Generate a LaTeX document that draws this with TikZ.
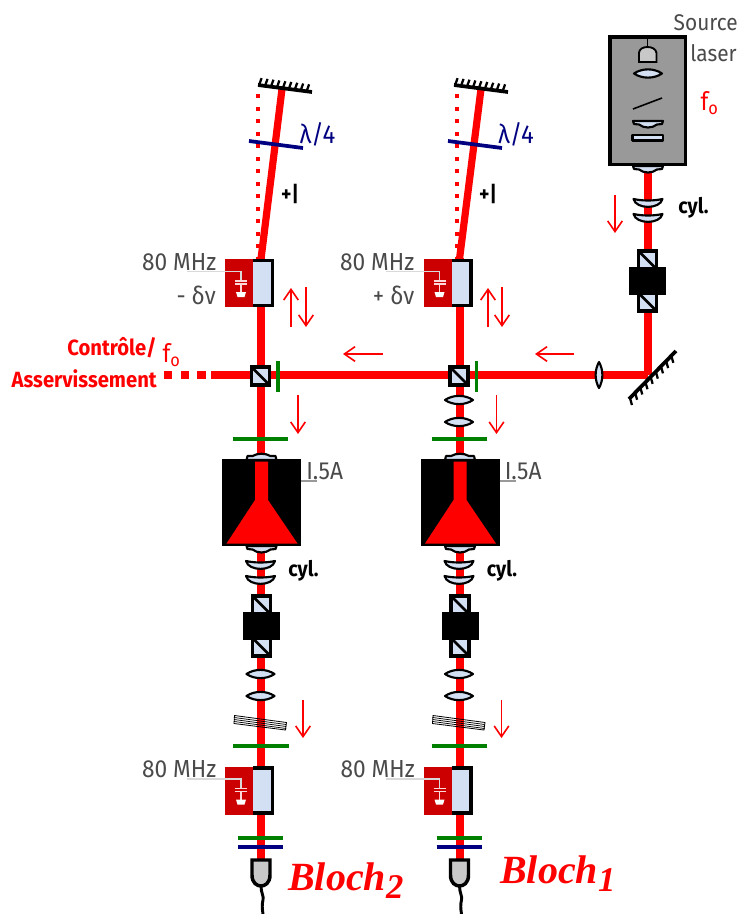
\documentclass[tikz,border=0pt]{standalone}
\usepackage{fontspec}
\setmainfont[FakeStretch=0.92]{Fira Sans}
\newfontfamily\blochfont[BoldItalicFont={Liberation Serif Bold Italic}]{Liberation Serif}
\usetikzlibrary{calc,arrows.meta}
\definecolor{aomred}{HTML}{CC0000}
\definecolor{optic}{HTML}{D3E0F3}
\definecolor{txtgray}{HTML}{4A4A4A}
\definecolor{plategreen}{HTML}{008000}
\definecolor{platenavy}{HTML}{000080}
\definecolor{hgray}{HTML}{999999}
\definecolor{dgray}{HTML}{C8C8C8}
\tikzset{
  beam/.style={draw=red,line width=6pt},
  beamthin/.style={draw=red,line width=5.4pt},
  greenplate/.style={draw=plategreen,line width=2.8pt},
  navyplate/.style={draw=platenavy,line width=2.8pt},
  opt/.style={draw=black,fill=optic,line width=1.6pt,line join=round},
  dirarrow/.style={draw=red,line width=1.2pt,-{Straight Barb[length=8pt,width=11pt,line width=1.2pt]}},
  graylabel/.style={text=txtgray,font=\fontsize{18.5}{20}\selectfont,inner sep=0pt},
  sourcelabel/.style={text=txtgray,font=\fontsize{17}{19}\selectfont,inner sep=0pt},
  blacklabel/.style={text=black,font=\bfseries\fontsize{16}{18}\selectfont,inner sep=0pt},
  redlabel/.style={text=red,font=\bfseries\fontsize{16.5}{18}\selectfont,inner sep=0pt},
  bluelabel/.style={text=platenavy,font=\fontsize{19.5}{21}\selectfont,inner sep=0pt},
  redsub/.style={text=red,font=\fontsize{19}{20}\selectfont,inner sep=0pt},
  blochlabel/.style={text=red,font=\blochfont\bfseries\itshape\fontsize{30}{33}\selectfont,inner sep=0pt},
  biconvex/.pic={\draw[opt] (-14,0) .. controls (-6,-5.5) and (6,-5.5) .. (14,0) .. controls (6,5.5) and (-6,5.5) .. (-14,0) -- cycle;},
  topcap/.pic={\draw[opt] (-15,7) -- (-14,3) -- (-9,3) .. controls (-4,0) and (4,0) .. (9,3) -- (14,3) -- (15,7) -- cycle;},
  bottomcap/.pic={\draw[opt] (-15,0) -- (15,0) -- (14,3) -- (9,3.5) .. controls (4,7.5) and (-4,7.5) .. (-9,3.5) -- (-14,3) -- cycle;},
  cyllens/.pic={\draw[opt] (-14.5,0) .. controls (-5,2) and (5,2) .. (14.5,0) .. controls (12,10.5) and (-12,10.5) .. (-14.5,0) -- cycle;},
  cube/.pic={\draw[fill=optic,draw=black,line width=2.6pt] (-9,-9) rectangle (9,9); \draw[black,line width=2pt] (-9,-9) -- (9,9);},
  isolator/.pic={
    \draw[fill=optic,draw=black,line width=2.6pt] (-9,-30) rectangle (9,-12);
    \draw[black,line width=2pt] (-9,-30) -- (9,-12);
    \draw[fill=optic,draw=black,line width=2.6pt] (-9,12) rectangle (9,30);
    \draw[black,line width=2pt] (-9,12) -- (9,30);
    \fill[black] (-18.5,-14) rectangle (18.5,14);},
  amplifier/.pic={
    \fill[black] (-39.5,-43.5) rectangle (39.5,43.5);
    \fill[red] (-6.5,-41) -- (6.5,-41) -- (6.5,-2.5) -- (36,41) -- (-35,41) -- (-6.5,-2.5) -- cycle;},
  aom/.pic={
    \fill[aomred] (-36,-24) rectangle (-8,24);
    \draw[fill=optic,draw=black,line width=2.6pt] (-8,-22.5) -- (11.5,-22.5) -- (11.5,22.5) -- (-8,22.5);
    \draw[white!70!gray,line width=.8pt] (-74,-11.5) -- (-20,-11.5) -- (-20,-2);
    \draw[white!85!red,line width=.9pt] (-26,-2) -- (-14,-2) (-26,1) -- (-14,1) (-20,1) -- (-20,9);
    \fill[white] (-25,9) -- (-15,9) -- (-16.5,14) -- (-23.5,14) -- cycle;},
  detector/.pic={
    \draw[fill=dgray,draw=black,line width=2.6pt] (-9,0) -- (9,0) -- (9,15) .. controls (9,23) and (4,26) .. (0,26) .. controls (-4,26) and (-9,23) .. (-9,15) -- cycle;
    \draw[black,line width=2.2pt] (0,26) .. controls (0,33) and (3,36) .. (2,40) .. controls (1,44) and (1,48) .. (2,54);},
  etalon/.pic={
    \draw[black,line width=.6pt] (-26,-7) -- (26,0) -- (25,7.5) -- (-26.5,1) -- cycle;
    \foreach \d in {2,4,6} {\draw[black,line width=.55pt] (-26.3,-7+\d) -- (25.7,\d);}},
}
\newcommand{\mirrorticks}[4]{%
  \draw[black,line width=2.8pt] (#1) -- (#2);
  \foreach \t in {0.02,0.13,...,1.0} {\draw[black,line width=1.7pt] ($(#1)!\t!(#2)$) -- ++(#3,#4);}}
\newcommand{\blochname}[1]{Bloch\raisebox{-.2em}{\fontsize{26}{29}\selectfont #1}}
\begin{document}
\begin{tikzpicture}[x=0.75pt,y=-0.75pt]
\useasboundingbox (0,0) rectangle (739,914);
% key coordinates
\coordinate (pbsL) at (260.5,376);
\coordinate (pbsR) at (459,376);
\coordinate (foldM) at (648,375);
\coordinate (dashend) at (211,375);
\coordinate (mirLa) at (258,85); \coordinate (mirLb) at (312,92);
\coordinate (mirRa) at (454,85); \coordinate (mirRb) at (508,92);
\coordinate (mirSa) at (629,399); \coordinate (mirSb) at (676,351);
\coordinate (aomLtop) at (261,259); \coordinate (aomRtop) at (459.5,259);
\coordinate (hitL) at (282,89); \coordinate (hitR) at (481,89);
\coordinate (srcOut) at (648,170);
\coordinate (detL) at (261,860); \coordinate (detR) at (459.5,860);
% beams
\draw[beam] (foldM) -- (dashend);
\foreach \a/\b in {164/172,181/189,197/206} {\draw[beam] (\a,375) -- (\b,375);}
\draw[beam] (srcOut) -- (foldM);
\draw[beam] (261,258) -- (detL);
\draw[beam] (459.5,258) -- (detR);
\draw[beamthin] (aomLtop) -- (hitL);
\draw[beamthin] (aomRtop) -- (hitR);
\foreach \y in {96,108.5,...,260} {\fill[red] (256,\y-2) rectangle (260,\y+2); \fill[red] (455,\y-2) rectangle (459,\y+2);}
% retro-reflection arm
\mirrorticks{mirLa}{mirLb}{2.5}{-7}
\mirrorticks{mirRa}{mirRb}{2.5}{-7}
\mirrorticks{mirSa}{mirSb}{2}{7}
\draw[navyplate] (249,141) -- (303,148);
\draw[navyplate] (448,141) -- (502,148);
\node[bluelabel] (ql) at (317.5,134) {λ/4};
\node[bluelabel] (qr) at (516,134) {λ/4};
\node[blacklabel] (pl) at (290,194) {+|};
\node[blacklabel] (pr) at (488,194) {+|};
% source
\draw[fill=hgray,draw=black,line width=2.6pt] (610,37) rectangle (685.5,164.5);
\draw[black,line width=.6pt] (647.5,38) -- (647.5,47);
\draw[fill=dgray,draw=black,line width=1.4pt] (639,62) -- (639,53) .. controls (639,49) and (643,47) .. (647.5,47) .. controls (652,47) and (656,49) .. (656.5,53) -- (656.5,62) -- cycle;
\pic at (648,73.5) {biconvex};
\draw[black,line width=1.2pt] (633,109) -- (662,98);
\pic at (648,121) {bottomcap};
\draw[opt] (632.5,135) rectangle (663,140.5);
\pic at (648,166) {bottomcap};
\pic at (648,199) {cyllens};
\pic at (648,214) {cyllens};
\pic at (647.5,281) {isolator};
\draw[opt] (599,362) .. controls (603.5,370) and (603.5,380) .. (599,388) .. controls (594.5,380) and (594.5,370) .. (599,362) -- cycle;
\node[sourcelabel,anchor=east] (srca) at (738,23) {Source};
\node[sourcelabel,anchor=east] (srcb) at (737,53) {laser};
\node[redsub] (fs) at (710,103) {f$_{\mathrm{o}}$};
\node[blacklabel,anchor=west] (cs) at (678,208) {cyl.};
% columns
\foreach \cx/\nm in {260.5/L,459/R} {
  \pic at (\cx,376) {cube};
  \draw[greenplate] (\cx+17.5,361) -- (\cx+17.5,392);
  \draw[greenplate] (\cx-27.5,439) -- (\cx+27.5,439);
  \pic at (\cx+1,453) {topcap};
  \pic at (\cx+1,502.5) {amplifier};
  \pic at (\cx+1,546) {bottomcap};
  \pic at (\cx,561) {cyllens};
  \pic at (\cx,576) {cyllens};
  \pic at (\cx+1,626) {isolator};
  \pic at (\cx,674) {biconvex};
  \pic at (\cx,696) {biconvex};
  \pic at (\cx,722.5) {etalon};
  \draw[greenplate] (\cx-27.5,746) -- (\cx+28,746);
  \draw[greenplate] (\cx-22.5,838) -- (\cx+22.5,838);
  \draw[navyplate] (\cx-22.5,847) -- (\cx+22.5,847);
  \pic at (\cx+.5,283) {aom};
  \pic at (\cx+.5,790.5) {aom};
  \pic at (\cx+.5,860) {detector};
  \draw[gray!80,line width=.9pt] (\cx+40.5,481) -- (\cx+56.5,481);
  \node[graylabel,anchor=west] (amp\nm) at (\cx+45.5,471) {I.5A};
  \node[blacklabel,anchor=west] (cyl\nm) at (\cx+27.5,571) {cyl.};
  \draw[dirarrow] (\cx+37.5,395) -- (\cx+37.5,434);
  \draw[dirarrow] (\cx+42.5,700) -- (\cx+42.5,738);
  \node[graylabel,anchor=east] (low\nm) at (\cx-44,769) {80 MHz};
}
\pic at (459,400) {biconvex};
\pic at (459,422) {biconvex};
\node[graylabel,anchor=east] (mL) at (216.5,262) {80 MHz};
\node[graylabel,anchor=east] (mR) at (414.5,262) {80 MHz};
\node[graylabel,anchor=east] (dL) at (216,295) {- δν};
\node[graylabel,anchor=east] (dR) at (414.5,295) {+ δν};
% direction arrows
\draw[dirarrow] (291,327) -- (291,288);
\draw[dirarrow] (306,287) -- (306,327);
\draw[dirarrow] (488,327) -- (488,288);
\draw[dirarrow] (502,287) -- (502,327);
\draw[dirarrow] (383,354) -- (343,354);
\draw[dirarrow] (574,354) -- (535,354);
\draw[dirarrow] (615,195) -- (615,233);
% control labels
\node[redlabel,anchor=east] (ctl) at (157,348) {Contrôle/};
\node[redlabel,anchor=east] (asv) at (157,379) {Asservissement};
\node[redsub] (f0) at (172,355) {f$_{\mathrm{o}}$};
\node[blochlabel,anchor=base west] (b2) at (288,890) {\blochname{2}};
\node[blochlabel,anchor=base west] (b1) at (500,883) {\blochname{1}};
\end{tikzpicture}
\end{document}
